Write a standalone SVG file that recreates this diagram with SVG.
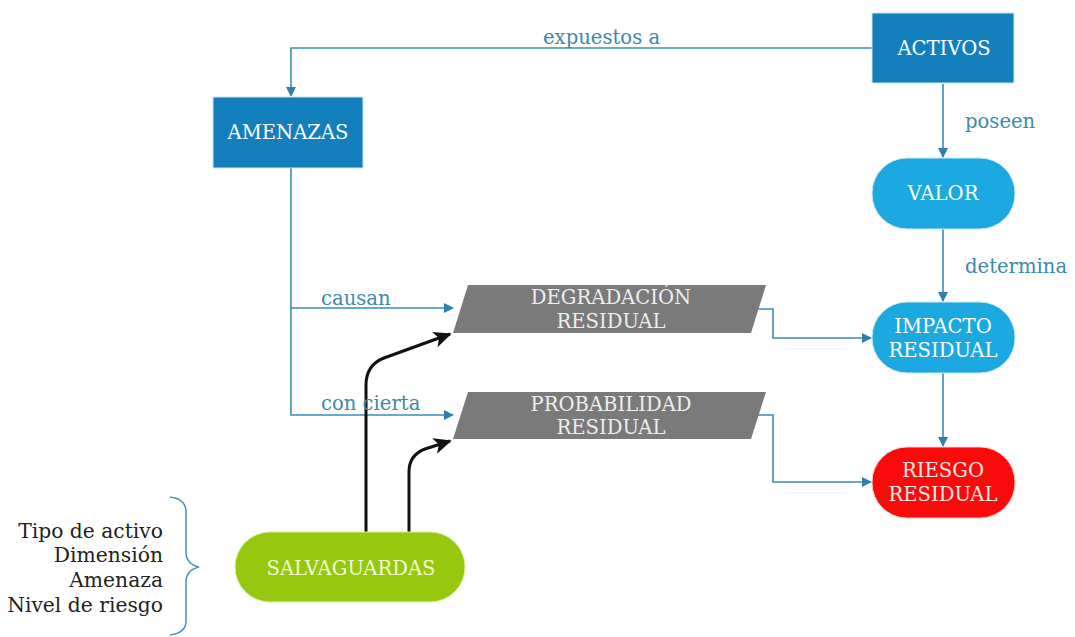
<svg xmlns="http://www.w3.org/2000/svg" width="1075" height="637" viewBox="0 0 1075 637">
<style>
.t{font-family:"DejaVu Serif","Liberation Serif",serif;font-size:19.6px;fill:#ffffff;text-anchor:middle}
.lbl{font-family:"DejaVu Serif","Liberation Serif",serif;font-size:19.6px;fill:#3d8aa8}
.side{font-family:"DejaVu Serif","Liberation Serif",serif;font-size:20.3px;fill:#222;text-anchor:end}
.c{fill:none;stroke:#3a8dbb;stroke-width:1.6}
.k{fill:none;stroke:#111;stroke-width:3}
.sq{fill:#1380bd;stroke:#cfe6f3;stroke-width:1}
.pl{fill:#1ca8e0;stroke:#cdebf8;stroke-width:1}
.pg{fill:#7a7a7a}
</style>
<defs>
<marker id="ab" viewBox="0 0 10 10" refX="9" refY="5" markerWidth="10" markerHeight="10" markerUnits="userSpaceOnUse" orient="auto">
<path d="M0,0 L10,5 L0,10 z" fill="#2f7fae"/>
</marker>
<marker id="ak" viewBox="0 0 10 10" refX="9" refY="5" markerWidth="6" markerHeight="6" orient="auto">
<path d="M0,0.5 L10,5 L0,9.5 L2.5,5 z" fill="#111"/>
</marker>
</defs>
<rect width="1075" height="637" fill="#ffffff"/>
<g id="connectors">
<path class="c" d="M872,48 H291 V96" marker-end="url(#ab)"/>
<path class="c" d="M943,84 V157" marker-end="url(#ab)"/>
<path class="c" d="M943,229 V301" marker-end="url(#ab)"/>
<path class="c" d="M943,373 V446" marker-end="url(#ab)"/>
<path class="c" d="M291,168 V415 H453" marker-end="url(#ab)"/>
<path class="c" d="M291,308 H453" marker-end="url(#ab)"/>
<path class="c" d="M750,309 H773 V338 H871" marker-end="url(#ab)"/>
<path class="c" d="M750,415 H773 V482 H871" marker-end="url(#ab)"/>
<path class="k" d="M366,532 V385 Q366,365 384,358 L450,334" marker-end="url(#ak)"/>
<path class="k" d="M409,532 V472 Q409,455 425,449 L450,441" marker-end="url(#ak)"/>
<path d="M170,497 Q186,499 186,512 V552 Q186,564 199,567 Q186,570 186,582 V621 Q186,633 170,635" fill="none" stroke="#4a90b4" stroke-width="1.5"/>
<text class="lbl" x="543" y="44">expuestos a</text>
<text class="lbl" x="965" y="128">poseen</text>
<text class="lbl" x="965" y="273">determina</text>
<text class="lbl" x="321" y="305">causan</text>
<text class="lbl" x="321" y="410">con cierta</text>
</g>
<g id="activos">
<rect class="sq" x="872" y="13" width="142" height="70"/>
<text class="t" x="944" y="55">ACTIVOS</text>
</g>
<g id="amenazas">
<rect class="sq" x="213" y="97" width="150" height="71"/>
<text class="t" x="288" y="139">AMENAZAS</text>
</g>
<g id="valor">
<rect class="pl" x="872" y="158" width="143" height="71" rx="35" ry="35"/>
<text class="t" x="943" y="200">VALOR</text>
</g>
<g id="impacto">
<rect class="pl" x="872" y="302" width="143" height="71" rx="35" ry="35"/>
<text class="t" x="943" y="333">IMPACTO</text>
<text class="t" x="943" y="357">RESIDUAL</text>
</g>
<g id="riesgo">
<rect x="872" y="447" width="143" height="71" rx="35" ry="35" fill="#fa0a0a" stroke="#f8cccc" stroke-width="1"/>
<text class="t" x="943" y="477" style="fill:#ffe8e8">RIESGO</text>
<text class="t" x="943" y="501" style="fill:#ffe8e8">RESIDUAL</text>
</g>
<g id="degradacion">
<polygon class="pg" points="468,285 766,285 751,333 453,333"/>
<text class="t" x="611" y="304" style="fill:#eeeeee">DEGRADACIÓN</text>
<text class="t" x="611" y="328" style="fill:#eeeeee">RESIDUAL</text>
</g>
<g id="probabilidad">
<polygon class="pg" points="468,392 766,392 751,439 453,439"/>
<text class="t" x="611" y="411" style="fill:#eeeeee">PROBABILIDAD</text>
<text class="t" x="611" y="434" style="fill:#eeeeee">RESIDUAL</text>
</g>
<g id="salvaguardas">
<rect x="235" y="532" width="230" height="70" rx="35" ry="35" fill="#96c80f" stroke="#d8ef9a" stroke-width="1"/>
<text class="t" x="351" y="575" style="fill:#f2fad8">SALVAGUARDAS</text>
</g>
<g id="criterios">
<text class="side" x="163" y="538">Tipo de activo</text>
<text class="side" x="163" y="562">Dimensión</text>
<text class="side" x="163" y="587">Amenaza</text>
<text class="side" x="163" y="612">Nivel de riesgo</text>
</g>
</svg>
